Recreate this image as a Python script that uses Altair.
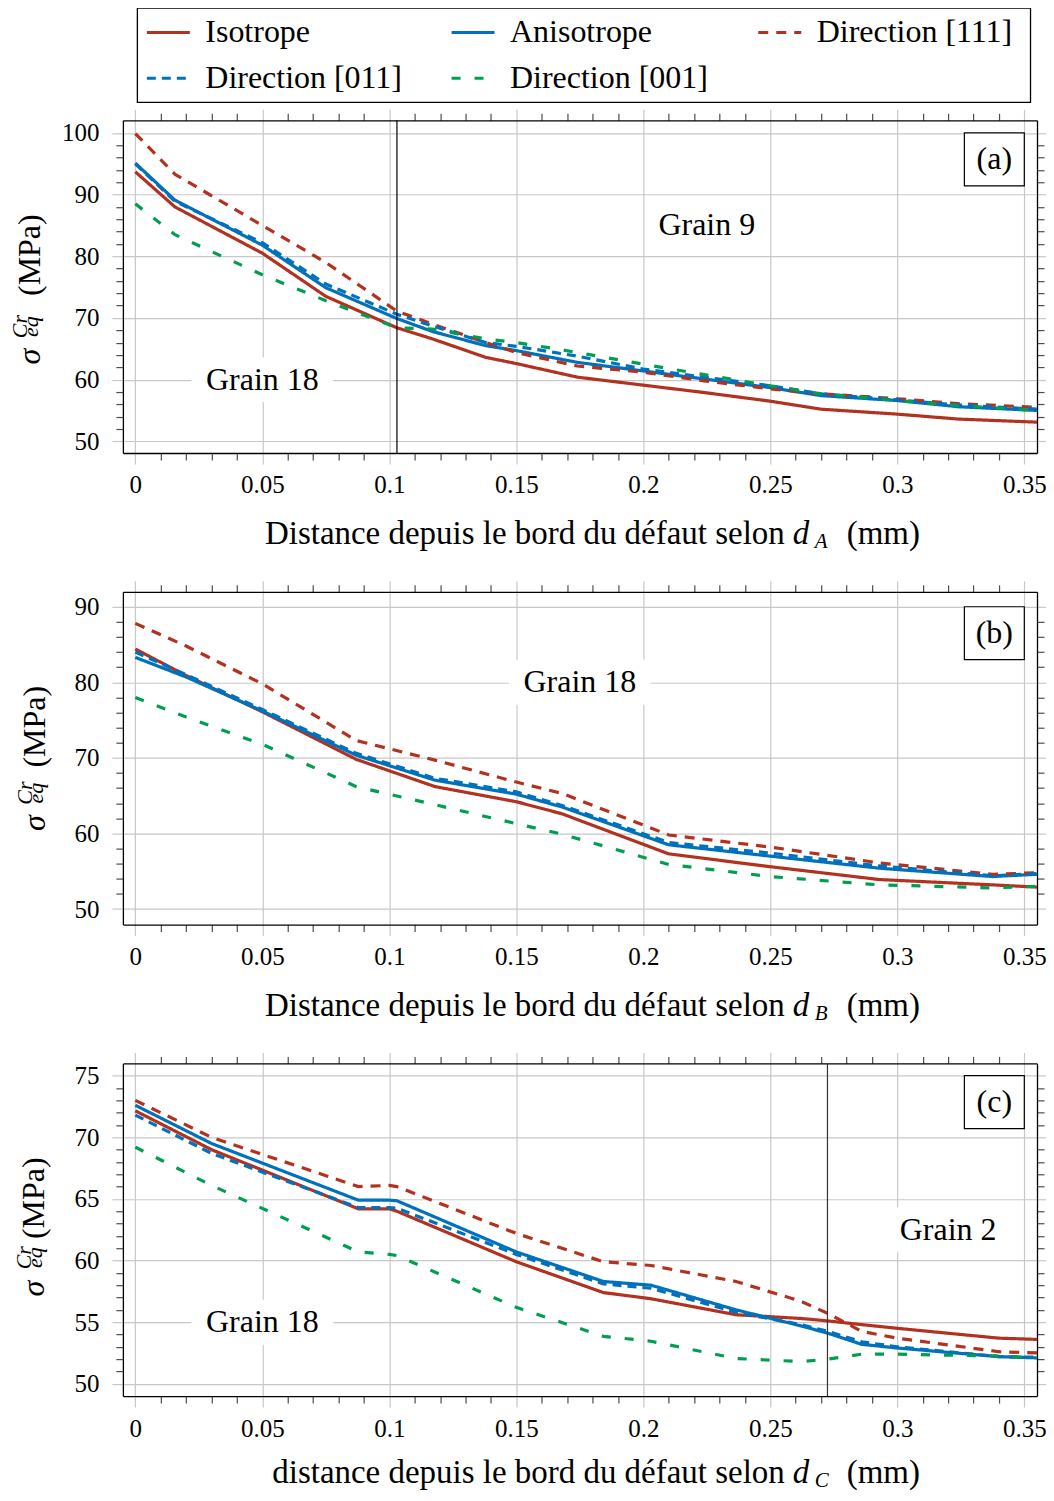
import altair as alt
import pandas as pd

FONT = "Liberation Serif"

SERIES = ["Isotrope", "Anisotrope", "Direction [111]", "Direction [011]", "Direction [001]"]
COLORS = ["#B3311F", "#0071BC", "#B3311F", "#0071BC", "#009E50"]
DASHES = [[1, 0], [1, 0], [10, 8], [9, 6], [9, 14]]

# ---------------- panel (a) ----------------
A_X = [0, 0.0156, 0.05, 0.075, 0.103, 0.117, 0.138, 0.15, 0.174, 0.2, 0.224, 0.25, 0.27, 0.3, 0.324, 0.355]
A_X001 = [0, 0.0156, 0.05, 0.075, 0.103, 0.117, 0.138, 0.15, 0.167, 0.2, 0.224, 0.25, 0.27, 0.3, 0.324, 0.355]
A_ISO = [93.7, 88.0, 80.5, 73.5, 68.4, 66.6, 63.6, 62.6, 60.4, 59.1, 57.9, 56.5, 55.2, 54.4, 53.6, 53.1]
A_ANI = [95.1, 89.1, 81.8, 74.9, 69.9, 67.8, 65.5, 64.7, 62.8, 61.4, 60.1, 58.7, 57.4, 56.6, 55.6, 55.0]
A_111 = [99.9, 93.3, 85.0, 79.0, 71.1, 69.0, 66.0, 64.4, 62.2, 61.2, 59.8, 58.5, 57.7, 56.9, 56.1, 55.5]
A_011 = [95.0, 88.9, 82.2, 75.5, 70.6, 68.7, 66.0, 65.4, 63.8, 61.7, 60.4, 59.0, 57.7, 56.7, 55.9, 55.2]
A_001 = [88.5, 83.5, 77.0, 72.8, 68.4, 68.2, 66.6, 66.0, 64.9, 62.5, 60.8, 59.0, 57.7, 56.6, 55.8, 55.0]

# ---------------- panel (b) ----------------
B_X = [0, 0.02, 0.05, 0.087, 0.118, 0.15, 0.168, 0.21, 0.25, 0.293, 0.3375, 0.355]
B_ISO = [84.4, 80.9, 76.1, 69.8, 66.2, 64.2, 62.6, 57.3, 55.6, 53.9, 53.2, 52.9]
B_ANI = [83.3, 80.7, 76.2, 70.35, 67.05, 65.2, 63.5, 58.5, 57.0, 55.4, 54.3, 54.6]
B_111 = [87.8, 84.8, 79.8, 72.3, 69.7, 66.8, 65.3, 59.8, 58.2, 56.1, 54.6, 54.8]
B_011 = [84.0, 81.0, 76.4, 70.6, 67.3, 65.5, 63.7, 58.8, 57.4, 55.7, 54.4, 54.7]
B_001 = [78.0, 75.4, 71.8, 66.2, 63.8, 61.3, 59.9, 55.9, 54.3, 53.2, 52.8, 53.0]

# ---------------- panel (c) ----------------
C_X = [0, 0.03, 0.0878, 0.1, 0.103, 0.15, 0.1843, 0.203, 0.2365, 0.262, 0.2727, 0.286, 0.3, 0.34, 0.355]
C_ISO = [72.15, 69.0, 64.2, 64.2, 64.0, 59.9, 57.4, 56.9, 55.6, 55.3, 55.1, 54.8, 54.5, 53.7, 53.6]
C_ANI = [72.6, 69.5, 64.9, 64.9, 64.85, 60.7, 58.3, 58.0, 56.0, 54.7, 54.1, 53.2, 52.9, 52.2, 52.1]
C_111 = [73.0, 70.0, 66.0, 66.1, 66.0, 62.2, 59.9, 59.6, 58.3, 56.7, 55.7, 54.25, 53.7, 52.6, 52.5]
C_011 = [71.8, 68.7, 64.3, 64.3, 64.25, 60.5, 58.1, 57.75, 55.8, 54.8, 54.25, 53.4, 53.0, 52.2, 52.15]
C_001 = [69.2, 66.1, 60.7, 60.5, 60.4, 56.2, 53.85, 53.45, 52.05, 51.8, 52.0, 52.4, 52.4, 52.25, 52.1]

X_TICKS = [round(i * 0.01, 2) for i in range(36)]
A_YTICKS = list(range(50, 101, 2))
B_YTICKS = list(range(50, 91, 2))
C_YTICKS = list(range(50, 76, 1))

W, H = 915, 333
XDOM = [-0.0049, 0.355]
PX_X = W / (XDOM[1] - XDOM[0])
GRID = "#c8c8c8"
MINOR = "#4d4d4d"
ONE = pd.DataFrame({"k": [0]})

LEG = alt.Legend(title=None, orient="none", legendX=22.5, legendY=-111, offset=0, columns=3,
                 direction="horizontal", symbolType="stroke", symbolSize=1849,
                 symbolStrokeWidth=3, labelFont=FONT, labelFontSize=32, labelLimit=600,
                 labelOffset=14, columnPadding=43, rowPadding=7, padding=0,
                 labelColor="black")


def long_df(xs_list, ys_list):
    rows = []
    for name, xs, ys in zip(SERIES, xs_list, ys_list):
        for i, (x, y) in enumerate(zip(xs, ys)):
            rows.append({"series": name, "x": x, "y": y, "i": i})
    return pd.DataFrame(rows)


def test_major(step):
    return f"abs(datum.value / {step} - round(datum.value / {step})) < 0.001"


def make_axis(orient, values, step, labels, fmt=None, pad=10):
    t = test_major(step)
    kw = dict(orient=orient, values=values, title=None, domain=True, domainColor="black",
              domainWidth=1.3, tickWidth=1.2,
              tickSize={"condition": {"test": t, "value": 11}, "value": 7},
              tickColor={"condition": {"test": t, "value": GRID}, "value": MINOR},
              labels=labels, grid=labels)
    if labels:
        kw.update(gridColor=GRID, gridWidth=1.2,
                  gridOpacity={"condition": {"test": t, "value": 1}, "value": 0},
                  labelExpr=f"({t}) ? datum.label : ''", format=fmt, labelFont=FONT,
                  labelFontSize=25, labelColor="black", labelPadding=pad,
                  labelFlush=False, labelOverlap=False)
    return alt.Axis(**kw)


def txt(text, x, y, size=32, style="normal", align="center", baseline="alphabetic", angle=0):
    return alt.Chart(ONE).mark_text(text=text, font=FONT, fontSize=size, fontStyle=style,
                                    align=align, baseline=baseline, angle=angle,
                                    color="black").encode(x=alt.value(x), y=alt.value(y))


def panel(df, ydom, yticks, ystep, vline, vcolor, grains, tag, tagtop, main, sub, yt, xb_off,
          legend_box=False):
    px_y = H / (ydom[1] - ydom[0])
    xs = alt.Scale(domain=XDOM, nice=False, zero=False)
    ys = alt.Scale(domain=ydom, nice=False, zero=False)

    lines = alt.Chart(df).mark_line(strokeWidth=3.2, clip=True, strokeCap="butt").encode(
        x=alt.X("x:Q", scale=xs, axis=make_axis("bottom", X_TICKS, 0.05, True, "~g", 9)),
        y=alt.Y("y:Q", scale=ys, axis=make_axis("left", yticks, ystep, True, "~g", 13)),
        color=alt.Color("series:N", scale=alt.Scale(domain=SERIES, range=COLORS), legend=LEG),
        strokeDash=alt.StrokeDash("series:N", scale=alt.Scale(domain=SERIES, range=DASHES), legend=LEG),
        order=alt.Order("i:Q"),
    )
    hidden = alt.Chart(df).mark_point(opacity=0).encode(
        x=alt.X("x:Q", scale=xs, axis=make_axis("top", X_TICKS, 0.05, False)),
        y=alt.Y("y:Q", scale=ys, axis=make_axis("right", yticks, ystep, False)),
    )
    layers = [lines, hidden]
    if vline is not None:
        layers.append(alt.Chart(pd.DataFrame({"x": [vline]})).mark_rule(
            color=vcolor, strokeWidth=1.2).encode(x=alt.X("x:Q", scale=xs, axis=None)))

    gdf = pd.DataFrame([{"t": t, "x": x, "y": y,
                         "x0": x - w / 2 / PX_X, "x1": x + w / 2 / PX_X,
                         "y0": y - 22.5 / px_y, "y1": y + 22.5 / px_y} for t, x, y, w in grains])
    layers.append(alt.Chart(gdf).mark_rect(fill="white", stroke=None).encode(
        x=alt.X("x0:Q", scale=xs, axis=None), x2="x1", y=alt.Y("y0:Q", scale=ys, axis=None), y2="y1"))
    layers.append(alt.Chart(gdf).mark_text(font=FONT, fontSize=32, color="black", baseline="middle").encode(
        x=alt.X("x:Q", scale=xs, axis=None), y=alt.Y("y:Q", scale=ys, axis=None), text="t:N"))

    tdf = pd.DataFrame([{"t": tag, "x0": 0.35 - 60 / PX_X, "x1": 0.35, "y0": tagtop - 53 / px_y,
                         "y1": tagtop, "xc": 0.35 - 30 / PX_X, "yc": tagtop - 26.5 / px_y}])
    layers.append(alt.Chart(tdf).mark_rect(fill="white", stroke="black", strokeWidth=1.2).encode(
        x=alt.X("x0:Q", scale=xs, axis=None), x2="x1", y=alt.Y("y0:Q", scale=ys, axis=None), y2="y1"))
    layers.append(alt.Chart(tdf).mark_text(font=FONT, fontSize=32, color="black", baseline="middle").encode(
        x=alt.X("xc:Q", scale=xs, axis=None), y=alt.Y("yc:Q", scale=ys, axis=None), text="t:N"))

    if legend_box:
        # frame around the shared legend (drawn above panel (a))
        layers.append(alt.Chart(ONE).mark_rect(fill=None, stroke="black", strokeWidth=1.3).encode(
            x=alt.value(14.5), x2=alt.value(908.5), y=alt.value(-112.3), y2=alt.value(-18)))

    # y title: sigma_eq^Cr (MPa)
    dx, ds, dsc = yt
    C = H / 2
    layers += [
        txt("σ", dx, C + ds, 32, "italic", angle=270),
        txt("Cr", dx - 13, C + dsc, 22, "italic", angle=270),
        txt("eq", dx - 2, C + dsc, 22, "italic", angle=270),
        txt("(MPa)", dx, C - 31.5, 32, angle=270),
    ]
    # x title
    xb = H + xb_off
    layers += [
        txt(main, W / 2 + 205, xb, 33, align="right"),
        txt("d", W / 2 + 213, xb, 33, "italic", align="left"),
        txt(sub, W / 2 + 235, xb + 4, 21, "italic", align="left"),
        txt("(mm)", W / 2 + 267, xb, 33, align="left"),
    ]
    return alt.layer(*layers).resolve_axis(x="independent", y="independent").properties(width=W, height=H)


pa = panel(long_df([A_X, A_X, A_X, A_X, A_X001], [A_ISO, A_ANI, A_111, A_011, A_001]),
           [48.1, 102.05], A_YTICKS, 10, 0.103, "black",
           [("Grain 18", 0.05, 60, 142), ("Grain 9", 0.225, 85, 122)], "(a)", 100,
           "Distance depuis le bord du défaut selon", "A", (-82.9, 70, 40), 91.5, legend_box=True)
pb = panel(long_df([B_X] * 5, [B_ISO, B_ANI, B_111, B_011, B_001]),
           [47.95, 91.97], B_YTICKS, 10, None, None,
           [("Grain 18", 0.175, 80, 142)], "(b)", 90,
           "Distance depuis le bord du défaut selon", "B", (-78.4, 65, 35), 91.5)
pc = panel(long_df([C_X] * 5, [C_ISO, C_ANI, C_111, C_011, C_001]),
           [49.0, 76.0], C_YTICKS, 5, 0.2725, "#333333",
           [("Grain 18", 0.05, 55, 142), ("Grain 2", 0.32, 62.5, 122)], "(c)", 75,
           "distance depuis le bord du défaut selon", "C", (-78.9, 59, 28), 87)

chart = alt.vconcat(pa, pb, pc, spacing=139, bounds="flush").configure_view(
    stroke=None).properties(
    padding={"left": 1, "top": -1.3, "right": -3, "bottom": -0.2}, background="white")

chart.save("out.html", embed_options={"renderer": "svg", "actions": False})
